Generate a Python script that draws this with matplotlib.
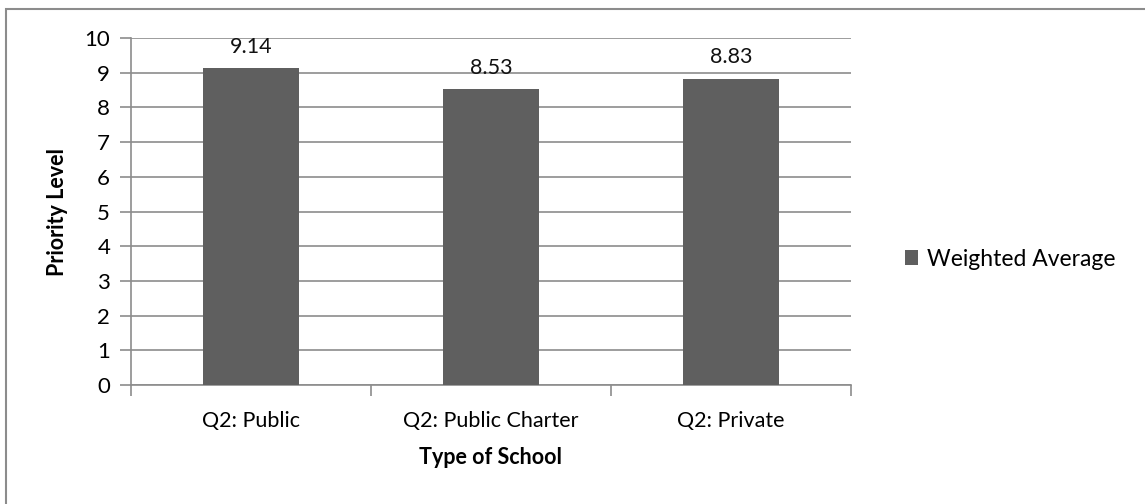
import numpy as np
from matplotlib import pyplot as plt
from matplotlib.patches import Rectangle

categories = ['Q2: Public', 'Q2: Public Charter', 'Q2: Private']
weighted_avg = [9.14, 8.53, 8.83]
series_name = 'Weighted Average'

plt.rcParams['font.family'] = ['Lato', 'DejaVu Sans']
fs = 15.5

fig = plt.figure(figsize=(11.45, 5.04), dpi=100)
ax = fig.add_axes([0.1144, 0.2361, 0.6288, 0.6885])

x = np.arange(len(categories))
bars = ax.bar(x, weighted_avg, width=0.4, color='#5f5f5f', label=series_name, zorder=3)

for xi, v in zip(x, weighted_avg):
    ax.annotate('{0:.2f}'.format(v), (xi, v), xytext=(0, 8), textcoords='offset points',
                ha='center', va='bottom', fontsize=fs, color='#111111')

ax.set_xlim(-0.5, len(categories) - 0.5)
ax.set_ylim(0, 10)
ax.set_yticks(range(0, 11))
ax.yaxis.grid(True, color='#8c8c8c', linewidth=1.2, zorder=0)
ax.set_axisbelow(True)

# ticks at category boundaries, labels at centres
ax.set_xticks(np.arange(-0.5, len(categories), 1.0))
ax.set_xticklabels([])
ax.set_xticks(x, minor=True)
ax.set_xticklabels(categories, minor=True, fontsize=fs)
ax.tick_params(axis='x', which='minor', length=0, pad=19)
ax.tick_params(axis='x', which='major', length=8, color='#8c8c8c', width=1.2)
ax.tick_params(axis='y', length=8, color='#8c8c8c', width=1.2, labelsize=16, pad=7)

for s in ['top', 'right']:
    ax.spines[s].set_visible(False)
for s in ['left', 'bottom']:
    ax.spines[s].set_color('#8c8c8c')
    ax.spines[s].set_linewidth(1.2)

ax.set_ylabel('Priority Level', fontsize=fs, fontweight='bold', labelpad=12)
ax.set_xlabel('Type of School', fontsize=fs, fontweight='bold', labelpad=11)

fig.legend(handles=[bars], labels=[series_name], loc='center left',
           bbox_to_anchor=(0.772, 0.486), frameon=False, fontsize=16.5,
           handlelength=0.6, handleheight=0.6, handletextpad=0.4)

# outer chart border, cut off at right and bottom
fig.patches.append(Rectangle((0.0055, -0.1), 1.1, 1.082, transform=fig.transFigure,
                             fill=False, edgecolor='#8c8c8c', linewidth=1.5))

fig.savefig('out.png', dpi=100)
